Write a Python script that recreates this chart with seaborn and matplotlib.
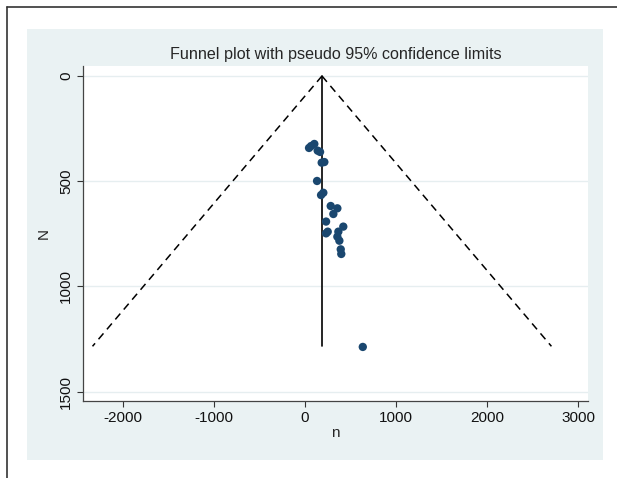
import matplotlib
matplotlib.use("Agg")
import matplotlib.pyplot as plt
import numpy as np
import pandas as pd
import seaborn as sns
from matplotlib.lines import Line2D
from matplotlib.patches import Rectangle

# Study data (effect n, precision axis N)
n_vals = [44, 66, 102, 139, 165, 183, 212, 132, 201, 176, 282, 355, 311,
          231, 420, 366, 249, 231, 355, 377, 392, 398, 634]
N_vals = [342, 333, 323, 355, 361, 412, 409, 499, 555, 566, 618, 629, 656,
          692, 716, 740, 740, 748, 764, 783, 824, 846, 1288]

# Pooled estimate and funnel extent
theta = 186
z = 1.96
funnel_N = [0, 1285]

x_ticks = [-2000, -1000, 0, 1000, 2000, 3000]
y_ticks = [0, 500, 1000, 1500]

df = pd.DataFrame({"n": n_vals, "N": N_vals})
funnel = pd.DataFrame({"N": funnel_N})
funnel["lo"] = theta - z * funnel["N"]
funnel["hi"] = theta + z * funnel["N"]

sns.set_style("white")
plt.rcParams["font.family"] = ["Liberation Sans", "DejaVu Sans"]
plt.rcParams["axes.unicode_minus"] = False

W, H = 617, 478
fig = plt.figure(figsize=(W / 100, H / 100), dpi=100)
fig.patch.set_facecolor("white")

# Stata-like graph region and frame
fig.add_artist(Rectangle((27 / W, 1 - 460 / H), (603 - 27) / W, (460 - 29) / H,
                         transform=fig.transFigure, facecolor="#eaf2f3",
                         edgecolor="none", zorder=0))
fig.add_artist(Line2D([7 / W, 1], [1 - 6.5 / H, 1 - 6.5 / H],
                      transform=fig.transFigure, color="#333333", lw=1.2))
fig.add_artist(Line2D([7 / W, 7 / W], [0, 1 - 6.5 / H],
                      transform=fig.transFigure, color="#333333", lw=1.2))

ax = fig.add_axes([83 / W, 1 - 401 / H, (588 - 83) / W, (401 - 65.7) / H])
ax.set_facecolor("white")

# Grid lines
for yt in y_ticks:
    ax.axhline(yt, color="#e6eef0", lw=1.0, zorder=0)

# Funnel limits and pooled line
ax.plot(funnel["lo"], funnel["N"], color="black", lw=1.1, ls=(0, (5, 3.5)))
ax.plot(funnel["hi"], funnel["N"], color="black", lw=1.1, ls=(0, (5, 3.5)))
ax.plot([theta, theta], funnel_N, color="black", lw=1.2)

sns.scatterplot(data=df, x="n", y="N", ax=ax, color="#1a476f", s=36,
                edgecolor="none", zorder=3)

ax.set_xlim(-2437, 3106)
ax.set_ylim(1545, -49)
ax.set_xticks(x_ticks)
ax.set_yticks(y_ticks)
ax.set_yticklabels([str(v) for v in y_ticks], rotation=90, va="center")
ax.tick_params(axis="both", direction="out", length=4, width=0.8,
               color="#333333", labelsize=11, labelcolor="#111111", pad=3,
               left=True, bottom=True)

for side in ["top", "right"]:
    ax.spines[side].set_visible(False)
for side in ["left", "bottom"]:
    ax.spines[side].set_color("#444444")
    ax.spines[side].set_linewidth(0.9)

ax.set_xlabel("n", fontsize=11, labelpad=1)
ax.set_ylabel("N", fontsize=11, labelpad=6)
ax.set_title("Funnel plot with pseudo 95% confidence limits", fontsize=11.6, pad=5)

fig.savefig("out.png", dpi=100)
